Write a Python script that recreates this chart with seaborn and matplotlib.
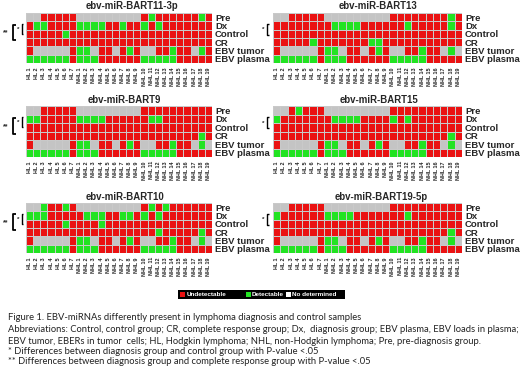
import numpy as np
import pandas as pd
import matplotlib
matplotlib.use("Agg")
import matplotlib.pyplot as plt
import seaborn as sns
from matplotlib.colors import ListedColormap
from matplotlib.lines import Line2D
from matplotlib.patches import Rectangle

# ---------------- data ----------------
# codes: 0 = Undetectable, 1 = Detectable, 2 = No determined
row_names = ["Pre", "Dx", "Control", "CR", "EBV tumor", "EBV plasma"]
col_labels = ["HL 1", "HL 2", "HL 3", "HL 4", "HL 5", "HL 6", "HL 7",
              "NHL 1", "NHL 2", "NHL 3", "NHL 4", "NHL 5", "NHL 6", "NHL 7",
              "NHL 8", "NHL 9", "NHL 10", "NHL 11", "NHL 12", "NHL 13",
              "NHL 14", "NHL 15", "NHL 16", "NHL 17", "NHL 18", "NHL 19"]
legend_labels = ["Undetectable", "Detectable", "No determined"]

ebv_tumor = [0, 2, 2, 2, 2, 2, 0, 1, 1, 2, 0, 0, 2, 0, 1, 0, 2, 2, 0, 0, 1, 0, 0, 2, 1, 2]
ebv_tumor_b11 = [0, 2, 2, 2, 2, 2, 0, 1, 1, 2, 0, 0, 2, 0, 1, 0, 2, 2, 0, 0, 1, 0, 0, 2, 1, 0]
ebv_plasma = [1, 1, 1, 1, 1, 1, 0, 1, 1, 1, 0, 0, 0, 0, 0, 0, 1, 1, 1, 1, 1, 0, 0, 0, 0, 0]

b11_pre = [2, 2, 0, 0, 0, 0, 0, 2, 2, 2, 2, 2, 2, 2, 2, 2, 0, 1, 0, 0, 0, 0, 0, 0, 1, 0]
b11_dx = [0, 1, 1, 0, 0, 0, 0, 1, 1, 1, 1, 0, 0, 1, 0, 0, 1, 0, 1, 0, 0, 0, 0, 0, 0, 0]
b11_control = [0, 0, 0, 0, 0, 1, 0, 0, 0, 0, 0, 0, 0, 0, 0, 0, 0, 0, 0, 0, 0, 0, 0, 0, 0, 0]
b11_cr = [0, 0, 0, 0, 0, 0, 0, 0, 0, 0, 0, 0, 0, 0, 0, 0, 0, 0, 0, 0, 0, 0, 0, 0, 0, 0]

b13_pre = [2, 2, 0, 0, 0, 0, 0, 2, 2, 2, 2, 2, 2, 2, 2, 2, 0, 0, 0, 0, 0, 0, 0, 0, 1, 0]
b13_dx = [0, 0, 0, 0, 0, 0, 0, 0, 1, 1, 1, 1, 0, 0, 0, 0, 0, 0, 1, 0, 0, 0, 0, 0, 1, 0]
b13_control = [0, 0, 0, 0, 0, 0, 0, 0, 0, 0, 0, 0, 0, 0, 0, 0, 0, 0, 0, 0, 0, 0, 0, 0, 0, 0]
b13_cr = [0, 0, 0, 0, 0, 1, 0, 0, 0, 0, 0, 0, 0, 1, 1, 0, 0, 0, 0, 0, 0, 0, 0, 0, 0, 0]

b9_pre = [2, 2, 0, 0, 0, 0, 0, 2, 2, 2, 2, 2, 2, 2, 2, 2, 0, 0, 0, 0, 0, 0, 0, 0, 0, 0]
b9_dx = [1, 1, 0, 0, 0, 0, 0, 1, 1, 1, 1, 0, 0, 0, 0, 0, 0, 1, 1, 0, 0, 0, 0, 0, 0, 0]
b9_control = [0, 0, 0, 0, 0, 0, 0, 0, 0, 0, 0, 0, 0, 0, 0, 0, 0, 0, 0, 0, 0, 0, 0, 0, 0, 0]
b9_cr = [0, 0, 0, 0, 0, 0, 0, 0, 0, 0, 0, 0, 0, 0, 0, 0, 0, 0, 0, 0, 0, 0, 0, 0, 1, 0]

b15_pre = [2, 2, 0, 1, 0, 0, 0, 2, 2, 2, 2, 2, 2, 2, 2, 2, 0, 0, 0, 0, 0, 0, 0, 0, 0, 0]
b15_dx = [1, 0, 0, 0, 0, 0, 0, 0, 1, 1, 1, 1, 0, 0, 0, 0, 1, 0, 1, 0, 0, 0, 0, 0, 0, 0]
b15_control = [0, 0, 0, 0, 0, 0, 0, 0, 0, 0, 0, 0, 0, 0, 0, 0, 0, 0, 0, 0, 0, 0, 0, 0, 0, 0]
b15_cr = [0, 0, 0, 0, 0, 0, 0, 0, 0, 0, 0, 0, 0, 0, 0, 0, 0, 0, 0, 0, 0, 0, 0, 0, 1, 0]

b10_pre = [2, 2, 1, 0, 0, 1, 0, 2, 2, 2, 2, 2, 2, 2, 2, 2, 0, 1, 0, 1, 0, 0, 0, 0, 0, 0]
b10_dx = [1, 1, 1, 0, 0, 0, 0, 0, 1, 1, 1, 0, 0, 1, 1, 0, 1, 0, 1, 0, 0, 0, 0, 0, 0, 0]
b10_control = [0, 0, 0, 0, 0, 1, 0, 0, 0, 0, 1, 0, 0, 0, 0, 0, 0, 0, 0, 0, 0, 0, 0, 0, 0, 0]
b10_cr = [0, 0, 0, 0, 0, 0, 0, 0, 0, 0, 0, 0, 0, 0, 0, 0, 0, 0, 1, 0, 0, 0, 0, 0, 1, 0]

b19_pre = [2, 2, 0, 0, 0, 0, 0, 2, 2, 2, 2, 2, 2, 2, 2, 2, 0, 0, 0, 0, 0, 0, 0, 0, 0, 0]
b19_dx = [1, 0, 0, 0, 0, 0, 0, 1, 1, 1, 1, 0, 0, 0, 0, 0, 0, 0, 1, 0, 0, 0, 0, 0, 0, 0]
b19_control = [0, 0, 0, 0, 0, 0, 0, 0, 0, 0, 0, 0, 0, 0, 0, 0, 0, 0, 0, 0, 0, 0, 0, 0, 0, 0]
b19_cr = [0, 0, 0, 0, 0, 0, 0, 0, 0, 0, 0, 0, 0, 0, 0, 0, 0, 0, 0, 0, 0, 0, 0, 0, 1, 0]

titles = ["ebv-miR-BART11-3p", "ebv-miR-BART13", "ebv-miR-BART9",
          "ebv-miR-BART15", "ebv-miR-BART10", "ebv-miR-BART19-5p"]

caption_lines = [
    "Figure 1. EBV-miRNAs differently present in lymphoma diagnosis and control samples",
    "Abbreviations: Control, control group; CR, complete response group; Dx,  diagnosis group; EBV plasma, EBV loads in plasma;",
    "EBV tumor, EBERs in tumor  cells; HL, Hodgkin lymphoma; NHL, non-Hodgkin lymphoma; Pre, pre-diagnosis group.",
    "* Differences between diagnosis group and control group with P-value <.05",
    "** Differences between diagnosis group and complete response group with P-value <.05",
]

# ---------------- style ----------------
sns.set_style("white")
plt.rcParams['font.family'] = ['Liberation Sans', 'DejaVu Sans']

RED, GREEN, GRAY = "#EA1212", "#22E322", "#C4C4C4"
cmap = ListedColormap([RED, GREEN, GRAY])

W, H = 520, 375
fig = plt.figure(figsize=(W / 100, H / 100), dpi=100)


def fx(x):
    return x / W


def fy(y):
    return 1 - y / H


panel_data = [
    [b11_pre, b11_dx, b11_control, b11_cr, ebv_tumor_b11, ebv_plasma],
    [b13_pre, b13_dx, b13_control, b13_cr, ebv_tumor, ebv_plasma],
    [b9_pre, b9_dx, b9_control, b9_cr, ebv_tumor, ebv_plasma],
    [b15_pre, b15_dx, b15_control, b15_cr, ebv_tumor, ebv_plasma],
    [b10_pre, b10_dx, b10_control, b10_cr, ebv_tumor, ebv_plasma],
    [b19_pre, b19_dx, b19_control, b19_cr, ebv_tumor, ebv_plasma],
]
# grid boxes in pixels (x0, y0, x1, y1)
boxes = [(26, 13, 212, 63), (273, 13, 462, 63),
         (26, 106, 212, 157), (273, 106, 462, 157),
         (26, 203, 212, 253), (273, 203, 462, 253)]
# title centres in pixels
title_pos = [(132, 6), (378, 6), (124, 100), (379, 100), (125, 197), (381, 197)]

for data, title, (x0, y0, x1, y1), (tx, ty) in zip(panel_data, titles, boxes, title_pos):
    ax = fig.add_axes([fx(x0), fy(y1), (x1 - x0) / W, (y1 - y0) / H])
    df = pd.DataFrame(data, index=row_names, columns=col_labels)
    sns.heatmap(df, ax=ax, cmap=cmap, vmin=-0.5, vmax=2.5, cbar=False,
                linewidths=0.45, linecolor="#c9c9c9",
                xticklabels=True, yticklabels=True)
    ax.yaxis.tick_right()
    ax.set_yticklabels(row_names, rotation=0, fontsize=6.8, fontweight="bold")
    ax.set_xticklabels(col_labels, rotation=90, fontsize=3.9, fontweight="bold")
    ax.tick_params(axis="y", length=0, pad=2.2)
    ax.tick_params(axis="x", length=0, pad=3)
    ax.set_xlabel("")
    ax.set_ylabel("")
    fig.text(fx(tx), fy(ty), title, fontsize=6.9, fontweight="bold",
             ha="center", va="center")


def line(xs, ys, lw=0.9):
    fig.add_artist(Line2D([fx(v) for v in xs], [fy(v) for v in ys],
                          color="black", lw=lw, solid_capstyle="butt"))


def bracket(x, ytop, ybot, w, lw=0.9):
    line([x + w, x, x, x + w], [ytop, ytop, ybot, ybot], lw=lw)


# significance brackets
for (x0, y0, x1, y1), double in zip(boxes, [True, False, True, False, True, False]):
    rh = (y1 - y0) / 6.0
    dx_c = y0 + 1.5 * rh
    ctl_c = y0 + 2.5 * rh
    cr_c = y0 + 3.5 * rh
    if double:
        bracket(x0 - 13, dx_c - 1, cr_c - 2, 2.5, lw=1.3)
        fig.text(fx(x0 - 20), fy((dx_c + cr_c) / 2 - 1), "**", fontsize=5,
                 fontweight="bold", ha="center", va="center")
        bracket(x0 - 4.5, dx_c - 1.5, ctl_c, 1.8, lw=1.0)
        fig.text(fx(x0 - 7.5), fy((dx_c + ctl_c) / 2 - 0.5), "*", fontsize=4.5,
                 fontweight="bold", ha="center", va="center")
    else:
        bracket(x0 - 6.5, dx_c - 1.5, ctl_c + 1, 2.0, lw=1.0)
        fig.text(fx(x0 - 10), fy((dx_c + ctl_c) / 2), "*", fontsize=4.5,
                 fontweight="bold", ha="center", va="center")

# legend
lx0, lx1, ly0, ly1 = 178, 345, 290, 299
fig.add_artist(Rectangle((fx(lx0), fy(ly1)), (lx1 - lx0) / W, (ly1 - ly0) / H,
                         transform=fig.transFigure, facecolor="black",
                         edgecolor="none"))
leg_items = [(180, RED, legend_labels[0]), (245.5, GREEN, legend_labels[1]),
             (285.5, "white", legend_labels[2])]
for sx, c, lab in leg_items:
    fig.add_artist(Rectangle((fx(sx), fy(ly1 - 2)), 5 / W, 5 / H,
                             transform=fig.transFigure, facecolor=c,
                             edgecolor="none"))
    fig.text(fx(sx + 6.5), fy((ly0 + ly1) / 2), lab, fontsize=4.6,
             fontweight="bold", color="white", ha="left", va="center")

# caption (fit line 2 to its measured width)
cap_family = ["Lato", "DejaVu Sans"]
cap_y = [318, 330, 341, 351, 361]
base = 6.5
renderer = fig.canvas.get_renderer()
probe = fig.text(0, 0, caption_lines[1], fontsize=base, family=cap_family)
wpx = probe.get_window_extent(renderer=renderer).width
probe.remove()
cap_size = base * 510 / wpx
for txt, y in zip(caption_lines, cap_y):
    fig.text(fx(8), fy(y), txt, fontsize=cap_size, family=cap_family,
             color="#222222", ha="left", va="center")

fig.savefig("out.png", dpi=100)
